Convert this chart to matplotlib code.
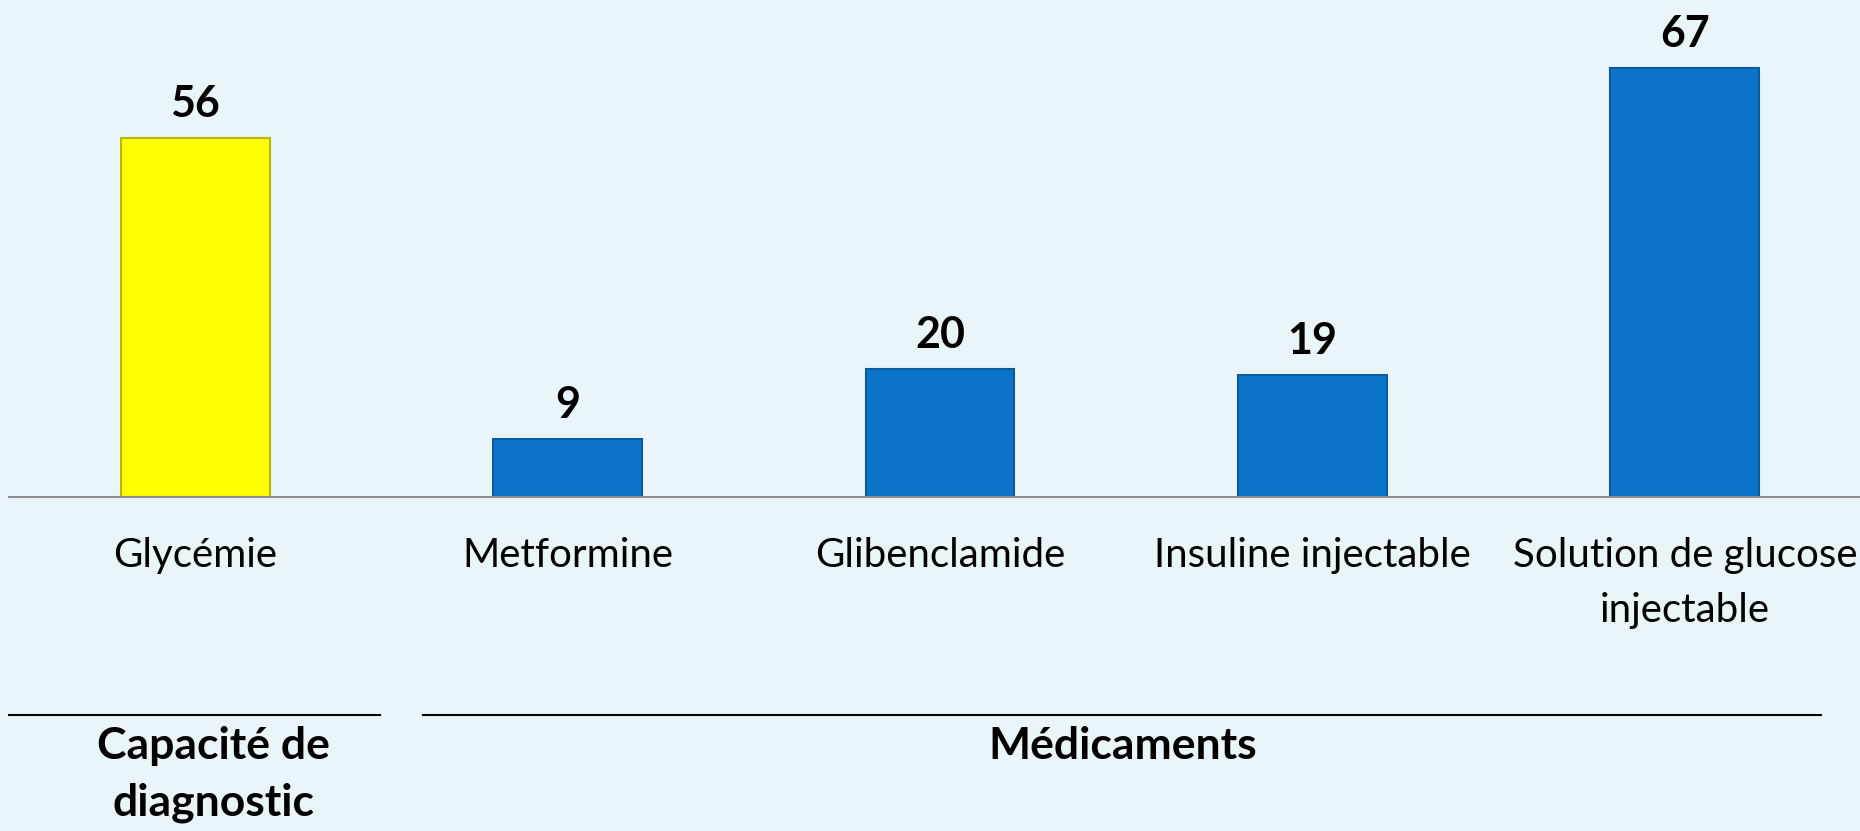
import matplotlib
matplotlib.use("Agg")
import matplotlib.pyplot as plt
import matplotlib.transforms as mtransforms

categories = ["Glycémie", "Metformine", "Glibenclamide", "Insuline injectable",
              "Solution de glucose\ninjectable"]
values = [56, 9, 20, 19, 67]
bar_colors = ["#FFFF00", "#0B74C9", "#0B74C9", "#0B74C9", "#0B74C9"]
edge_colors = ["#B8B800", "#0A5A9C", "#0A5A9C", "#0A5A9C", "#0A5A9C"]
groups = ["Capacité de\ndiagnostic", "Médicaments"]
group_spans = [(-0.5, 0.496), (0.612, 4.365)]
group_label_x = [0.05, 2.49]

plt.rcParams['font.family'] = ['Lato', 'DejaVu Sans']
BG = "#EAF5FA"
W, H = 1860, 831
fig = plt.figure(figsize=(W / 100, H / 100), dpi=100, facecolor=BG)
ax = fig.add_axes([9 / W, 334 / H, 1862 / W, 481 / H])
ax.set_facecolor(BG)

x = list(range(len(categories)))
bars = ax.bar(x, values, width=0.40, color=bar_colors, edgecolor=edge_colors, linewidth=1.5)
ax.set_xlim(-0.5, 4.5)
ax.set_ylim(0, 481 / 6.41)

for b, v in zip(bars, values):
    ax.annotate(str(v), (b.get_x() + b.get_width() / 2, v), xytext=(0, 10),
                textcoords="offset points", ha="center", va="bottom",
                fontsize=31, fontweight="bold", color="black")

for s in ["top", "right", "left"]:
    ax.spines[s].set_visible(False)
ax.spines["bottom"].set_color("#8C8C8C")
ax.spines["bottom"].set_linewidth(1.5)
ax.set_yticks([])
ax.set_xticks(x)
ax.set_xticklabels(categories, fontsize=29, linespacing=1.6)
ax.tick_params(axis="x", length=0, pad=29)

trans = mtransforms.blended_transform_factory(ax.transData, fig.transFigure)
for name, (x0, x1), lx in zip(groups, group_spans, group_label_x):
    ax.plot([x0, x1], [116 / H, 116 / H], color="black", lw=1.5, transform=trans, clip_on=False)
    ax.text(lx, 105 / H, name, transform=trans,
            ha="center", va="top", fontsize=32, fontweight="bold", linespacing=1.5)

fig.savefig("out.png", dpi=100, facecolor=BG)
